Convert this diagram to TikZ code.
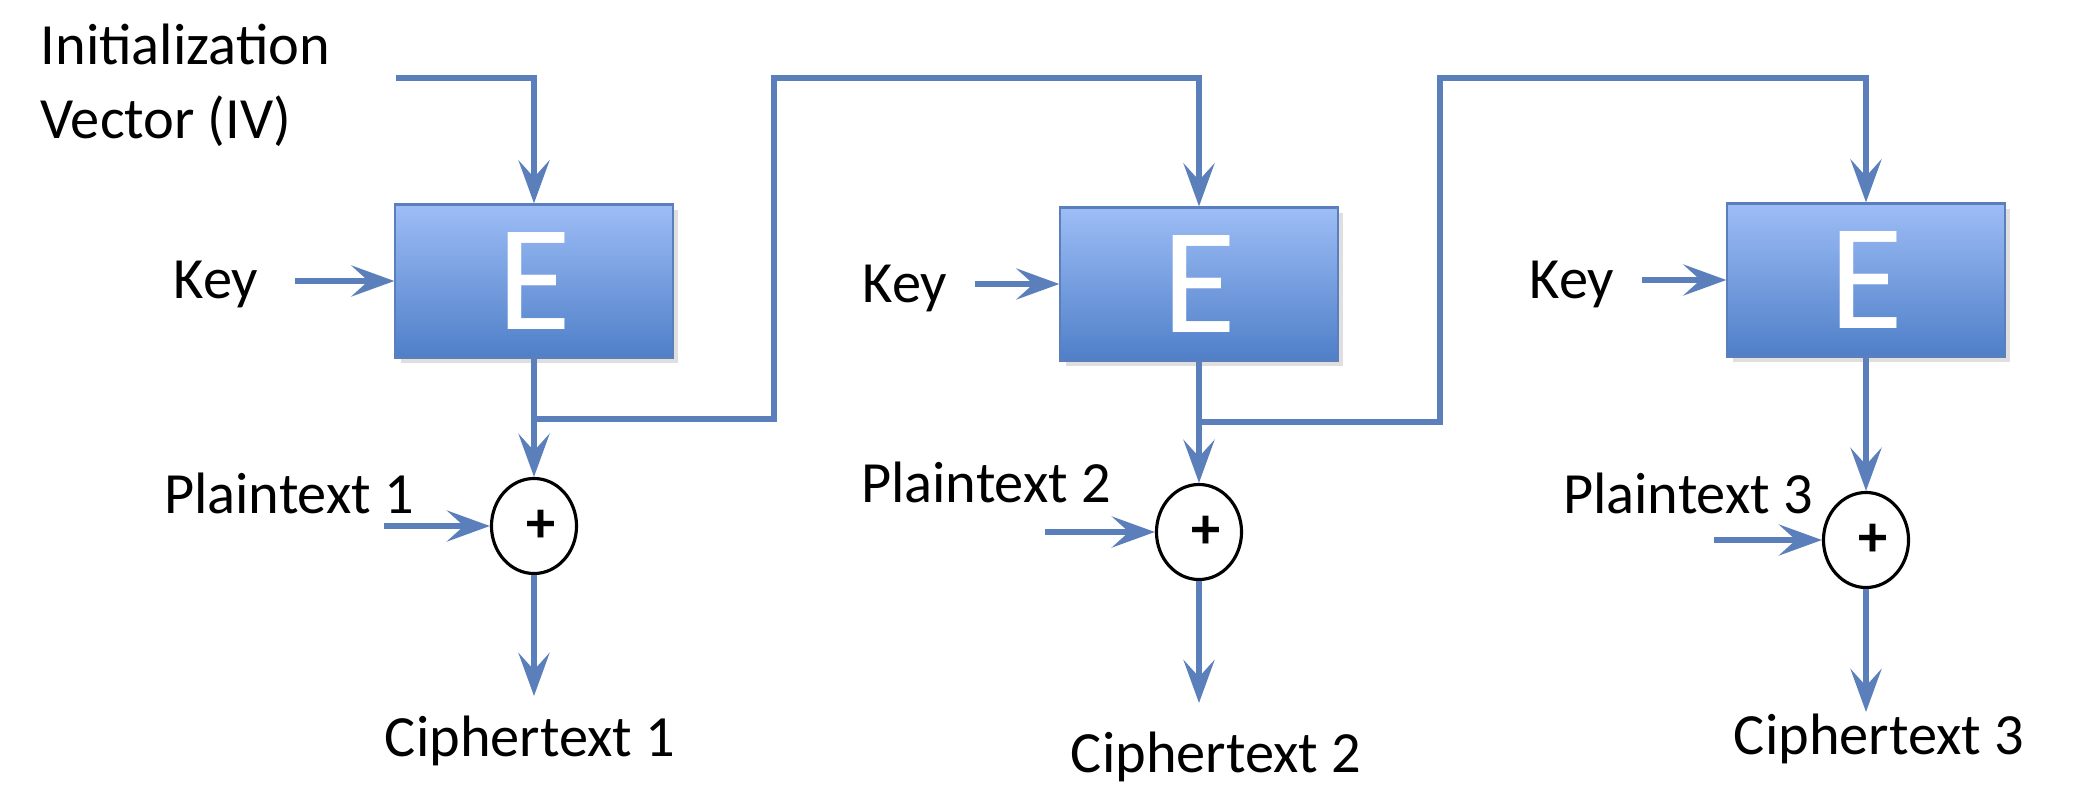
\documentclass[tikz,border=0pt]{standalone}
\usepackage{fontspec}
\setmainfont{Carlito}
\usetikzlibrary{arrows.meta,shapes.geometric,positioning,shadows}
\definecolor{flowblue}{HTML}{5A7FBA}
\definecolor{boxtop}{HTML}{9DBDF6}
\definecolor{boxbot}{HTML}{4F7FC8}
\definecolor{boxedge}{HTML}{5B7FBC}
\tikzset{enc node/.style={rectangle,draw=boxedge,line width=0.6pt,top color=boxtop,bottom color=boxbot,
		minimum width=2.77cm,minimum height=1.53cm,inner sep=0pt,text=white,
		font=\fontsize{43}{43}\selectfont,
		drop shadow={opacity=0.25,shadow xshift=1.5pt,shadow yshift=-1.5pt}},
}
\begin{document}
\begin{tikzpicture}[x=0.01cm,y=-0.01cm,>={Stealth[length=0.43cm,width=0.31cm,inset=0.17cm]},
	xor node/.style={ellipse,draw=black,line width=0.9pt,fill=white,minimum width=0.85cm,
		minimum height=0.95cm,inner sep=0pt,font=\fontsize{16.6}{20}\selectfont\bfseries},
	txt node/.style={inner sep=0pt,font=\fontsize{16.6}{21}\selectfont},
	flow/.style={->,draw=flowblue,line width=1.7pt}]
	
	\useasboundingbox (0,0) rectangle (2100,806);
	
	\node[enc node] (e1) at (534,281) {E};
	\node[enc node] (e2) at (1199,284) {E};
	\node[enc node] (e3) at (1866,280) {E};
	
	\node[xor node] (x1) at (534,526) {\hspace{0.14cm}+};
	\node[xor node] (x2) at (1199,532) {\hspace{0.14cm}+};
	\node[xor node] (x3) at (1866,540) {\hspace{0.14cm}+};
	
	\node[txt node,anchor=north west,align=left] (iv) at (40,23) {Initialization\\Vector (IV)};
	\node[txt node] (k1) at (216,284) {Key};
	\node[txt node] (k2) at (905,288) {Key};
	\node[txt node] (k3) at (1572,284) {Key};
	\node[txt node] (p1) at (289,493) {Plaintext 1};
	\node[txt node] (p2) at (986,482) {Plaintext 2};
	\node[txt node] (p3) at (1688,493) {Plaintext 3};
	\node[txt node] (c1) at (530,741) {Ciphertext 1};
	\node[txt node] (c2) at (1216,757) {Ciphertext 2};
	\node[txt node] (c3) at (1879,739) {Ciphertext 3};
	
	% free ends of the arrows
	\coordinate (ivin) at (396,78);
	\coordinate (kin1) at (295,281);
	\coordinate (kin2) at (975,284);
	\coordinate (kin3) at (1642,280);
	\coordinate (pin1) at (384,526);
	\coordinate (pin2) at (1045,532);
	\coordinate (pin3) at (1714,540);
	\coordinate (cout1) at (534,696);
	\coordinate (cout2) at (1199,703);
	\coordinate (cout3) at (1866,712);
	
	% feedback of each block output
	\coordinate (j1) at (534,419);
	\coordinate (j2) at (1199,422);
	\coordinate (up1) at (774,78);
	\coordinate (up2) at (1440,78);
	
	\draw[flow] (ivin) -| (e1.north);
	\draw[flow] (j1) -| (up1) -| (e2.north);
	\draw[flow] (j2) -| (up2) -| (e3.north);
	
	\draw[flow] (kin1) -- (e1.west);
	\draw[flow] (kin2) -- (e2.west);
	\draw[flow] (kin3) -- (e3.west);
	
	\draw[flow] (e1.south) -- (x1.north);
	\draw[flow] (e2.south) -- (x2.north);
	\draw[flow] (e3.south) -- (x3.north);
	
	\draw[flow] (pin1) -- (x1.west);
	\draw[flow] (pin2) -- (x2.west);
	\draw[flow] (pin3) -- (x3.west);
	
	\draw[flow] (x1.south) -- (cout1);
	\draw[flow] (x2.south) -- (cout2);
	\draw[flow] (x3.south) -- (cout3);
\end{tikzpicture}
\end{document}
